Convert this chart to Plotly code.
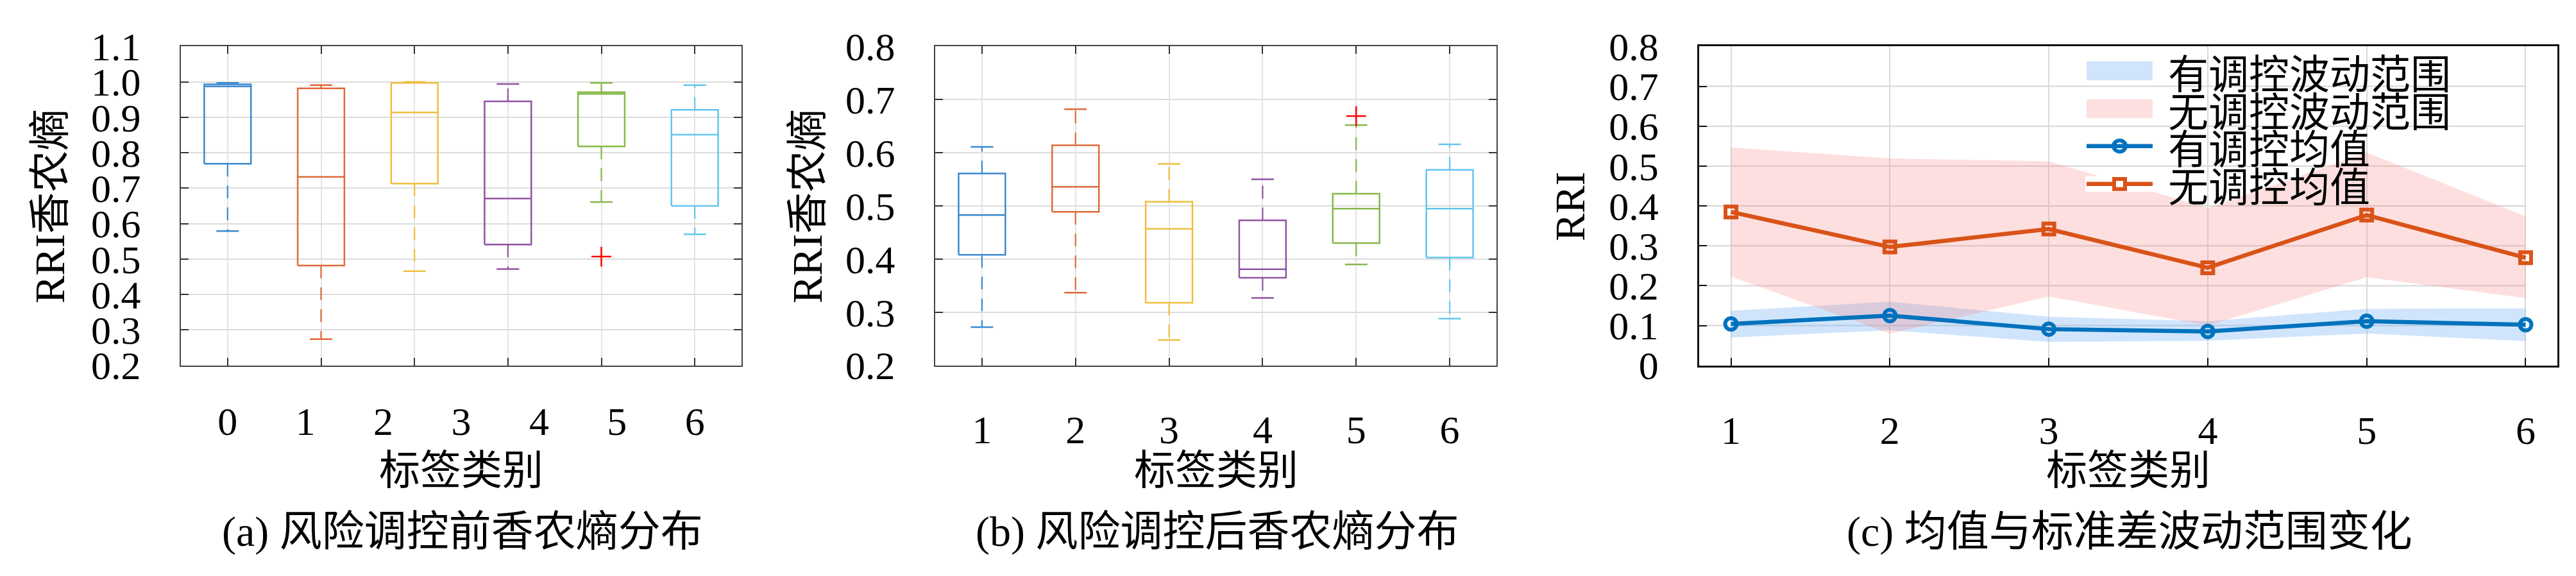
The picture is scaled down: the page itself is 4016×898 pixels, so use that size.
import plotly.graph_objects as go

# ---------------- data ----------------
# (a) before regulation: box statistics
pos_a = [1, 2, 3, 4, 5, 6]
tick_labels_a = ['0', '1', '2', '3', '4', '5', '6']
before_upper = [0.997, 0.991, 1.000, 0.994, 0.997, 0.991]
before_q3 = [0.993, 0.982, 0.997, 0.945, 0.971, 0.921]
before_median = [0.987, 0.732, 0.914, 0.671, 0.966, 0.851]
before_q1 = [0.769, 0.482, 0.713, 0.541, 0.818, 0.650]
before_lower = [0.579, 0.274, 0.466, 0.472, 0.661, 0.570]
before_outlier_x = [5]
before_outlier_y = [0.507]
yticks_a = [0.2, 0.3, 0.4, 0.5, 0.6, 0.7, 0.8, 0.9, 1.0, 1.1]

# (b) after regulation: box statistics
pos_b = [1, 2, 3, 4, 5, 6]
tick_labels_b = ['1', '2', '3', '4', '5', '6']
after_upper = [0.611, 0.682, 0.579, 0.550, 0.652, 0.616]
after_q3 = [0.561, 0.614, 0.508, 0.473, 0.523, 0.568]
after_median = [0.483, 0.536, 0.457, 0.381, 0.495, 0.495]
after_q1 = [0.408, 0.489, 0.318, 0.365, 0.430, 0.403]
after_lower = [0.272, 0.337, 0.248, 0.327, 0.390, 0.288]
after_outlier_x = [5]
after_outlier_y = [0.669]
yticks_b = [0.2, 0.3, 0.4, 0.5, 0.6, 0.7, 0.8]

# (c) mean and std band
cats_c = [1, 2, 3, 4, 5, 6]
tick_labels_c = ['1', '2', '3', '4', '5', '6']
mean_with = [0.104, 0.125, 0.091, 0.085, 0.111, 0.102]
mean_without = [0.385, 0.297, 0.342, 0.245, 0.377, 0.270]
band_with_upper = [0.137, 0.160, 0.122, 0.111, 0.142, 0.143]
band_with_lower = [0.070, 0.088, 0.059, 0.062, 0.080, 0.061]
band_without_upper = [0.547, 0.519, 0.512, 0.395, 0.534, 0.374]
band_without_lower = [0.223, 0.080, 0.173, 0.100, 0.221, 0.169]
yticks_c = [0, 0.1, 0.2, 0.3, 0.4, 0.5, 0.6, 0.7, 0.8]
yticktext_c = ['0', '0.1', '0.2', '0.3', '0.4', '0.5', '0.6', '0.7', '0.8']
legend_labels = ['有调控波动范围', '无调控波动范围', '有调控均值', '无调控均值']

# text
ylabel_ab = 'RRI香农熵'
ylabel_c = 'RRI'
xlabel = '标签类别'
captions = ['(a) 风险调控前香农熵分布', '(b) 风险调控后香农熵分布', '(c) 均值与标准差波动范围变化']

# ---------------- style ----------------
W, H = 4016, 898
BOX_COLORS = ['#3A89CF', '#E0693A', '#EFBE3E', '#9152A2', '#86B74A', '#63C5EE']
BW = 0.25      # half box width
CW = 0.12      # half cap width
SERIF = 'Liberation Serif, Noto Sans CJK SC'
CJK = 'Noto Sans CJK SC'
TICK_FONT = dict(family='Liberation Serif', size=62, color='black')
BLUE = '#0072BD'
ORANGE = '#D95319'


def fx(p):
    return p / W


def fy(p):
    return 1 - p / H


DOM_Y = [fy(572), fy(34)]
DOM_A = [fx(274), fx(1148)]
DOM_B = [fx(1450), fx(2325)]
DOM_C = [fx(2641), fx(3979)]

fig = go.Figure()


def add_boxes(xa, ya, pos, lower, q1, med, q3, upper, ox, oy):
    for i, p in enumerate(pos):
        c = BOX_COLORS[i]
        common = dict(xaxis=xa, yaxis=ya, showlegend=False, hoverinfo='skip', mode='lines')
        fig.add_trace(go.Scatter(x=[p, p, None, p, p], y=[q3[i], upper[i], None, q1[i], lower[i]],
                                 line=dict(color=c, width=2.2, dash='20px,14px'), **common))
        fig.add_trace(go.Scatter(x=[p - CW, p + CW, None, p - CW, p + CW],
                                 y=[upper[i], upper[i], None, lower[i], lower[i]],
                                 line=dict(color=c, width=2.5), **common))
        fig.add_trace(go.Scatter(x=[p - BW, p + BW, p + BW, p - BW, p - BW],
                                 y=[q1[i], q1[i], q3[i], q3[i], q1[i]],
                                 line=dict(color=c, width=2.5), **common))
        fig.add_trace(go.Scatter(x=[p - BW, p + BW], y=[med[i], med[i]],
                                 line=dict(color=c, width=2.5), **common))
    fig.add_trace(go.Scatter(x=ox, y=oy, mode='markers', xaxis=xa, yaxis=ya, showlegend=False,
                             hoverinfo='skip',
                             marker=dict(symbol='cross-thin', size=22, line=dict(color='#FF0000', width=2.5))))


add_boxes('x', 'y', pos_a, before_lower, before_q1, before_median, before_q3, before_upper,
          before_outlier_x, before_outlier_y)
add_boxes('x2', 'y2', pos_b, after_lower, after_q1, after_median, after_q3, after_upper,
          after_outlier_x, after_outlier_y)

# (a) label axis helper trace (invisible) so overlay axis is active
label_pos_a = list(range(len(tick_labels_a)))
fig.add_trace(go.Scatter(x=label_pos_a, y=[yticks_a[0]] * len(label_pos_a), mode='markers',
                         marker=dict(opacity=0), xaxis='x4', yaxis='y', showlegend=False,
                         hoverinfo='skip'))

# (c) bands
fig.add_trace(go.Scatter(x=cats_c + cats_c[::-1], y=band_with_upper + band_with_lower[::-1],
                         fill='toself', fillcolor='rgba(110,175,245,0.32)', mode='lines',
                         line=dict(width=0), xaxis='x3', yaxis='y3', showlegend=False,
                         hoverinfo='skip'))
fig.add_trace(go.Scatter(x=cats_c + cats_c[::-1], y=band_without_upper + band_without_lower[::-1],
                         fill='toself', fillcolor='rgba(250,120,120,0.24)', mode='lines',
                         line=dict(width=0), xaxis='x3', yaxis='y3', showlegend=False,
                         hoverinfo='skip'))
fig.add_trace(go.Scatter(x=cats_c, y=mean_with, mode='lines+markers', xaxis='x3', yaxis='y3',
                         line=dict(color=BLUE, width=6.5), showlegend=False, hoverinfo='skip',
                         marker=dict(symbol='circle-open', size=18, color=BLUE,
                                     line=dict(color=BLUE, width=6))))
fig.add_trace(go.Scatter(x=cats_c, y=mean_without, mode='lines+markers', xaxis='x3', yaxis='y3',
                         line=dict(color=ORANGE, width=6.5), showlegend=False, hoverinfo='skip',
                         marker=dict(symbol='square-open', size=17, color=ORANGE,
                                     line=dict(color=ORANGE, width=6))))

# ---------------- axes ----------------
XSTAND = 45
YSTAND = 48
ab_x = dict(range=[0.5, 6.5], ticks='inside', ticklen=12, tickwidth=2, tickcolor='#333333',
            showline=True, linecolor='#444444', linewidth=2, mirror='ticks', showgrid=True,
            gridcolor='#E4E4E4', gridwidth=1.5, zeroline=False, tickfont=TICK_FONT,
            ticklabelstandoff=XSTAND)
ab_y = dict(ticks='inside', ticklen=12, tickwidth=2, tickcolor='#333333', showline=True,
            linecolor='#444444', linewidth=2, mirror='ticks', showgrid=True, gridcolor='#DCDCDC',
            gridwidth=2, zeroline=False, tickfont=TICK_FONT, ticklabelstandoff=YSTAND)

fig.update_layout(
    width=W, height=H, margin=dict(l=0, r=0, t=0, b=0), paper_bgcolor='white',
    plot_bgcolor='white',
    xaxis=dict(domain=DOM_A, anchor='y', tickvals=pos_a, showticklabels=False, **ab_x),
    yaxis=dict(domain=DOM_Y, anchor='x', range=[yticks_a[0], yticks_a[-1]], tickvals=yticks_a,
               ticktext=[f'{v:.1f}' for v in yticks_a], **ab_y),
    xaxis4=dict(overlaying='x', anchor='y', side='bottom',
                range=[-0.6, 6.6], tickvals=label_pos_a, ticktext=tick_labels_a,
                showgrid=False, showline=False, ticks='', zeroline=False, tickfont=TICK_FONT,
                ticklabelstandoff=XSTAND),
    xaxis2=dict(domain=DOM_B, anchor='y2', tickvals=pos_b, ticktext=tick_labels_b, **ab_x),
    yaxis2=dict(domain=DOM_Y, anchor='x2', range=[yticks_b[0], yticks_b[-1]], tickvals=yticks_b,
                ticktext=[f'{v:.1f}' for v in yticks_b], **ab_y),
    xaxis3=dict(domain=DOM_C, anchor='y3', range=[0.8, 6.2], tickvals=cats_c,
                ticktext=tick_labels_c, ticks='inside', ticklen=12, tickwidth=2,
                tickcolor='#111111', showline=True, linecolor='#111111', linewidth=2.5,
                mirror=True, showgrid=True, gridcolor='#DADADA', gridwidth=2, zeroline=False,
                tickfont=TICK_FONT, ticklabelstandoff=XSTAND),
    yaxis3=dict(domain=DOM_Y, anchor='x3', range=[yticks_c[0], yticks_c[-1]], tickvals=yticks_c,
                ticktext=yticktext_c, ticks='inside', ticklen=12, tickwidth=2,
                tickcolor='#111111', showline=True, linecolor='#111111', linewidth=2.5,
                mirror=True, showgrid=False, zeroline=False, tickfont=TICK_FONT,
                ticklabelstandoff=YSTAND),
)

shapes = []
# (c) horizontal gridlines that stop at the last category
for v in yticks_c:
    if yticks_c[0] < v < yticks_c[-1]:
        shapes.append(dict(type='line', xref='x3', yref='y3', x0=0.8, x1=cats_c[-1], y0=v, y1=v,
                           line=dict(color='#D6D6D6', width=2), layer='below'))

# custom legend for (c)
LX0, LX1 = 3245, 3348
rows = [75, 139, 202, 266]
shapes.append(dict(type='rect', xref='paper', yref='paper', x0=fx(LX0), x1=fx(LX1),
                   y0=fy(rows[0] + 16), y1=fy(rows[0] - 16), line=dict(width=0),
                   fillcolor='rgba(110,175,245,0.32)', layer='above'))
shapes.append(dict(type='rect', xref='paper', yref='paper', x0=fx(LX0), x1=fx(LX1),
                   y0=fy(rows[1] + 16), y1=fy(rows[1] - 16), line=dict(width=0),
                   fillcolor='rgba(250,120,120,0.24)', layer='above'))
for r, col in [(rows[2], BLUE), (rows[3], ORANGE)]:
    shapes.append(dict(type='rect', xref='paper', yref='paper', x0=fx(LX0 - 2), x1=fx(LX1 + 2),
                       y0=fy(r + 13), y1=fy(r - 13), line=dict(width=0), fillcolor='white',
                       layer='above'))
    shapes.append(dict(type='line', xref='paper', yref='paper', x0=fx(LX0), x1=fx(LX1),
                       y0=fy(r), y1=fy(r), line=dict(color=col, width=6.5), layer='above'))
cxm = (LX0 + LX1) / 2
shapes.append(dict(type='circle', xref='paper', yref='paper', x0=fx(cxm - 9.5), x1=fx(cxm + 9.5),
                   y0=fy(rows[2] + 9.5), y1=fy(rows[2] - 9.5), line=dict(color=BLUE, width=6),
                   fillcolor='rgba(0,0,0,0)', layer='above'))
shapes.append(dict(type='rect', xref='paper', yref='paper', x0=fx(cxm - 8.5), x1=fx(cxm + 8.5),
                   y0=fy(rows[3] + 8.5), y1=fy(rows[3] - 8.5), line=dict(color=ORANGE, width=6),
                   fillcolor='white', layer='above'))

annotations = []
for r, txt in zip(rows, legend_labels):
    annotations.append(dict(xref='paper', yref='paper', x=fx(3370), y=fy(r), xanchor='left',
                            yanchor='middle', text=txt, showarrow=False,
                            font=dict(family=CJK, size=63, color='black')))

# axis titles and captions
for cx, cap in [((274 + 1148) / 2, captions[0]),
                ((1450 + 2325) / 2, captions[1]),
                ((2641 + 3979) / 2, captions[2])]:
    annotations.append(dict(xref='paper', yref='paper', x=fx(cx), y=fy(742), xanchor='center',
                            yanchor='middle', text=xlabel, showarrow=False,
                            font=dict(family=CJK, size=64, color='black')))
    annotations.append(dict(xref='paper', yref='paper', x=fx(cx + 2), y=fy(853), xanchor='center',
                            yanchor='middle', text=cap, showarrow=False,
                            font=dict(family=SERIF, size=66, color='black')))
for xpos, yl in [(70, ylabel_ab), (1251, ylabel_ab), (2440, ylabel_c)]:
    annotations.append(dict(xref='paper', yref='paper', x=fx(xpos), y=fy(304), xanchor='center',
                            yanchor='middle', text=yl, showarrow=False, textangle=-90,
                            font=dict(family=SERIF, size=65, color='black')))

fig.update_layout(shapes=shapes, annotations=annotations)

fig.write_html('out.html', config={'displayModeBar': False})
